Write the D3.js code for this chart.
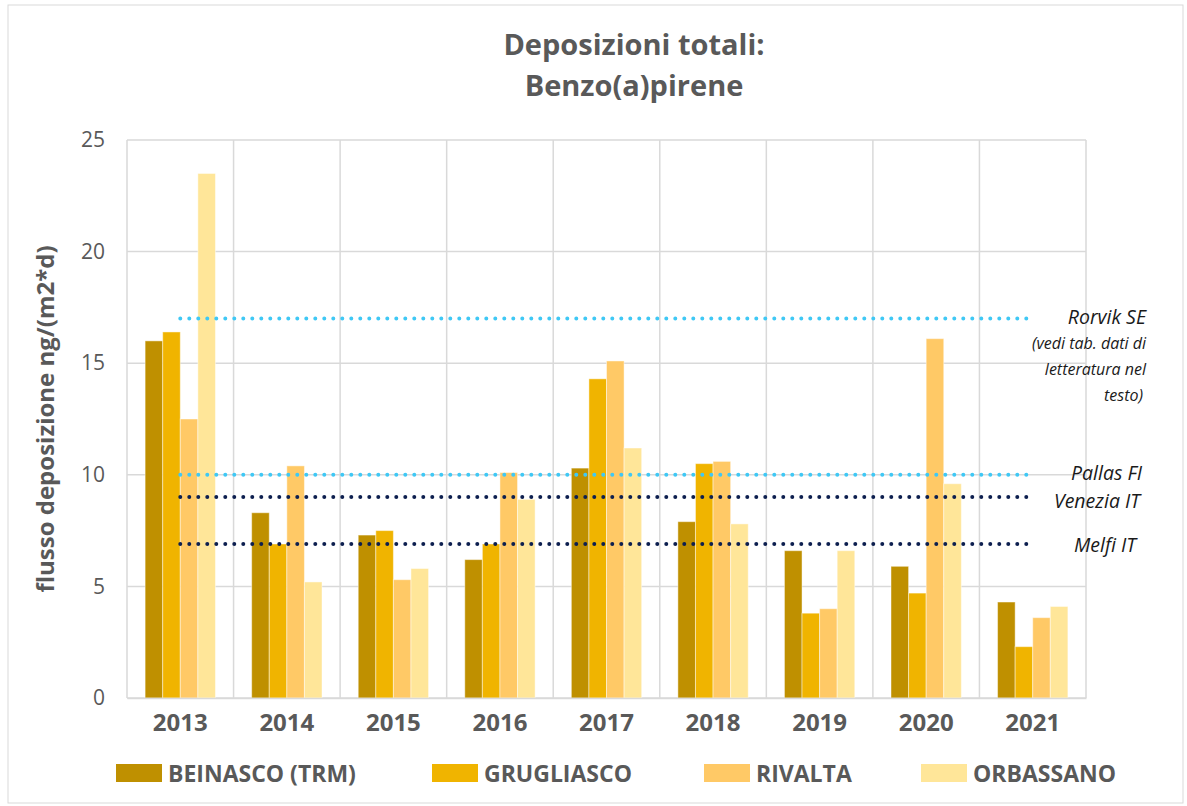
<!DOCTYPE html>
<html>
<head>
<meta charset="utf-8">
<style>
  body { margin: 0; background: #fff; }
  text { font-family: "Open Sans", sans-serif; fill: #595959; }
  .grid line { stroke: #d9d9d9; stroke-width: 1.5; }
</style>
<script src="https://d3js.org/d3.v7.min.js"></script>
</head>
<body>
<div id="chart"></div>
<script>
// data
var years = ["2013", "2014", "2015", "2016", "2017", "2018", "2019", "2020", "2021"];
var seriesNames = ["BEINASCO (TRM)", "GRUGLIASCO", "RIVALTA", "ORBASSANO"];
var beinasco   = [16.0, 8.3, 7.3, 6.2, 10.3, 7.9, 6.6, 5.9, 4.3];
var grugliasco = [16.4, 6.9, 7.5, 6.9, 14.3, 10.5, 3.8, 4.7, 2.3];
var rivalta    = [12.5, 10.4, 5.3, 10.1, 15.1, 10.6, 4.0, 16.1, 3.6];
var orbassano  = [23.5, 5.2, 5.8, 8.9, 11.2, 7.8, 6.6, 9.6, 4.1];
var yTicks = [0, 5, 10, 15, 20, 25];
var refNames = ["Rorvik SE", "Pallas FI", "Venezia IT", "Melfi IT"];
var refValues = [17, 10, 9, 6.9];
var refNote = ["(vedi tab. dati di", "letteratura nel", "testo)"];

var colors = ["#bf9000", "#f0b400", "#ffc966", "#ffe699"];
var refColors = ["#3fc8f5", "#3fc8f5", "#0d1f4f", "#0d1f4f"];
var allSeries = [beinasco, grugliasco, rivalta, orbassano];

var W = 1187, H = 806;
var margin = {top: 140, right: 101, bottom: 108, left: 127};
var width = W - margin.left - margin.right,
    height = H - margin.top - margin.bottom;

var svg = d3.select("#chart").append("svg")
    .attr("width", W).attr("height", H);

// outer border
svg.append("rect")
    .attr("x", 8).attr("y", 5).attr("width", W - 12).attr("height", H - 8)
    .attr("fill", "none").attr("stroke", "#d9d9d9").attr("stroke-width", 1);

var g = svg.append("g")
    .attr("transform", "translate(" + margin.left + "," + margin.top + ")");

var x0 = d3.scaleBand().domain(years).range([0, width]).padding(0);
var x1 = d3.scaleBand().domain(d3.range(4))
    .range([x0.bandwidth() * 0.17, x0.bandwidth() * 0.83]).padding(0);
var y = d3.scaleLinear().domain([0, 25]).range([height, 0]);

// grid
var grid = g.append("g").attr("class", "grid");
grid.selectAll(".h").data(yTicks).enter().append("line")
    .attr("x1", 0).attr("x2", width)
    .attr("y1", function(d) { return y(d); }).attr("y2", function(d) { return y(d); });
grid.selectAll(".v").data(years.concat(["end"])).enter().append("line")
    .attr("x1", function(d, i) { return i * x0.bandwidth(); })
    .attr("x2", function(d, i) { return i * x0.bandwidth(); })
    .attr("y1", 0).attr("y2", height);

// bars
var groups = g.selectAll(".year").data(years).enter().append("g")
    .attr("transform", function(d) { return "translate(" + x0(d) + ",0)"; });
groups.selectAll("rect")
    .data(function(d, i) { return allSeries.map(function(s, k) { return {k: k, v: s[i]}; }); })
    .enter().append("rect")
    .attr("x", function(d) { return x1(d.k); })
    .attr("width", x1.bandwidth())
    .attr("y", function(d) { return y(d.v); })
    .attr("height", function(d) { return height - y(d.v); })
    .attr("fill", function(d) { return colors[d.k]; })
    .attr("stroke", "rgba(255,255,255,0.45)")
    .attr("stroke-width", 1);

// reference lines
var xStart = x0(years[0]) + x0.bandwidth() / 2,
    xEnd = x0(years[years.length - 1]) + x0.bandwidth() / 2;
refValues.forEach(function(v, i) {
  g.append("line")
    .attr("x1", xStart).attr("x2", xEnd)
    .attr("y1", y(v)).attr("y2", y(v))
    .attr("stroke", refColors[i])
    .attr("stroke-width", 4)
    .attr("stroke-linecap", "round")
    .attr("stroke-dasharray", "0,9");
});

// reference labels
var labelX = 1146 - margin.left;
var refShift = [0, 4, 6, 10];
var refDy = [5, 5, 11, 8];
refNames.forEach(function(n, i) {
  g.append("text")
    .attr("x", labelX - refShift[i])
    .attr("y", y(refValues[i]) + refDy[i])
    .attr("text-anchor", "end")
    .style("font-style", "italic")
    .style("font-size", "19.5px")
    .style("fill", "#1a1a1a")
    .text(n);
});
refNote.forEach(function(t, i) {
  g.append("text")
    .attr("x", labelX - (i === 2 ? 3 : 0))
    .attr("y", y(refValues[0]) + 30 + i * 26)
    .attr("text-anchor", "end")
    .style("font-style", "italic")
    .style("font-size", "16px")
    .style("fill", "#1a1a1a")
    .text(t);
});

// axes
var yAxis = g.append("g")
    .call(d3.axisLeft(y).tickValues(yTicks).tickSize(0).tickPadding(22));
yAxis.select(".domain").remove();
yAxis.selectAll("text").style("font-size", "21px").style("fill", "#595959");

var xAxis = g.append("g")
    .attr("transform", "translate(0," + height + ")")
    .call(d3.axisBottom(x0).tickSize(0).tickPadding(13));
xAxis.select(".domain").attr("stroke", "#d9d9d9").attr("stroke-width", 1.5);
xAxis.selectAll("text").style("font-size", "24px").style("font-weight", "bold")
    .style("fill", "#595959").attr("dy", "0.85em");

// y label
svg.append("text")
    .attr("transform", "translate(54," + (margin.top + height / 2) + ") rotate(-90)")
    .attr("text-anchor", "middle")
    .style("font-size", "24px").style("font-weight", "bold")
    .text("flusso deposizione ng/(m2*d)");

// title
svg.append("text").attr("x", 634).attr("y", 55).attr("text-anchor", "middle")
    .style("font-size", "29px").style("font-weight", "bold")
    .text("Deposizioni totali:");
svg.append("text").attr("x", 634).attr("y", 96).attr("text-anchor", "middle")
    .style("font-size", "29px").style("font-weight", "bold")
    .text("Benzo(a)pirene");

// legend
var legendX = [116, 432, 704, 921];
var legend = svg.selectAll(".leg").data(seriesNames).enter().append("g")
    .attr("transform", function(d, i) { return "translate(" + legendX[i] + ",764)"; });
legend.append("rect").attr("width", 46).attr("height", 18)
    .attr("fill", function(d, i) { return colors[i]; });
legend.append("text").attr("x", 52).attr("y", 18)
    .style("font-size", "23px").style("font-weight", "bold")
    .text(function(d) { return d; });
</script>
</body>
</html>
